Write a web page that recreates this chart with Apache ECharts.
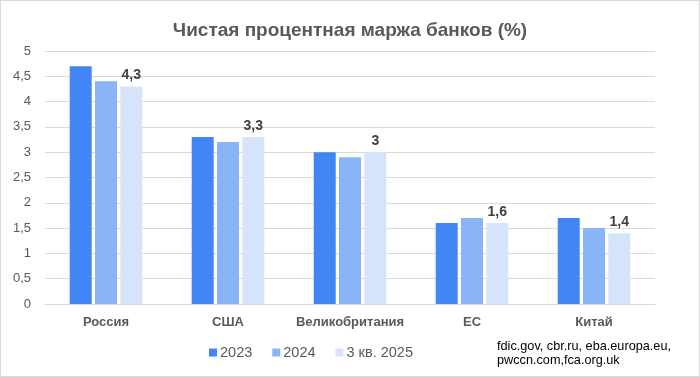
<!DOCTYPE html>
<html>
<head>
<meta charset="utf-8">
<script src="https://cdn.jsdelivr.net/npm/echarts@6/dist/echarts.min.js"></script>
<style>
  html, body { margin: 0; padding: 0; background: #fff; }
  #chart { width: 698px; height: 375px; border: 1px solid #d9d9d9; }
</style>
</head>
<body>
<div id="chart"></div>
<script>
// данные с картинки
const countries = ['Россия', 'США', 'Великобритания', 'ЕС', 'Китай'];
const seriesNames = ['2023', '2024', '3 кв. 2025'];
const v2023 = [4.7, 3.3, 3.0, 1.6, 1.7];
const v2024 = [4.4, 3.2, 2.9, 1.7, 1.5];
const v2025 = [4.3, 3.3, 3.0, 1.6, 1.4];
const colors = ['#4285F4', '#8AB4F8', '#D6E4FB'];

const fmt = v => String(v).replace('.', ',');

let myChart = echarts.init(document.getElementById('chart'));

function bar(name, data, color, withLabel) {
  return {
    name: name,
    type: 'bar',
    data: data,
    barWidth: 22,
    barGap: '15%',
    itemStyle: { color: color },
    label: {
      show: withLabel,
      position: 'top',
      distance: 4,
      fontFamily: 'Liberation Sans',
      fontSize: 14,
      fontWeight: 'bold',
      color: '#404040',
      formatter: p => fmt(p.value)
    }
  };
}

let option = {
  animation: false,
  textStyle: { fontFamily: 'Liberation Sans' },
  title: {
    text: 'Чистая процентная маржа банков (%)',
    left: 'center',
    top: 15,
    textStyle: { fontSize: 19, fontWeight: 'bold', color: '#595959', fontFamily: 'Liberation Sans' }
  },
  grid: { left: 44, right: 44, top: 50, bottom: 72, containLabel: false },
  legend: {
    bottom: 11,
    left: 203,
    itemWidth: 8,
    itemHeight: 8,
    itemGap: 20,
    icon: 'rect',
    textStyle: { fontSize: 14.5, color: '#595959', fontFamily: 'Liberation Sans', padding: [0, 0, 0, -2] },
    data: seriesNames
  },
  graphic: [{
    type: 'text',
    left: 496,
    top: 338,
    style: {
      text: 'fdic.gov, cbr.ru, eba.europa.eu,\npwccn.com,fca.org.uk',
      fontSize: 12.7,
      lineHeight: 14.5,
      fill: '#000',
      fontFamily: 'Liberation Sans'
    }
  }],
  xAxis: {
    type: 'category',
    data: countries,
    axisTick: { show: false },
    axisLine: { lineStyle: { color: '#d9d9d9' } },
    axisLabel: { interval: 0, fontSize: 13, fontWeight: 'bold', color: '#595959', margin: 12 }
  },
  yAxis: {
    type: 'value',
    min: 0,
    max: 5,
    interval: 0.5,
    axisLabel: { fontSize: 13, color: '#595959', margin: 14, formatter: v => fmt(v) },
    splitLine: { lineStyle: { color: '#d9d9d9' } }
  },
  series: [
    bar(seriesNames[0], v2023, colors[0], false),
    bar(seriesNames[1], v2024, colors[1], false),
    bar(seriesNames[2], v2025, colors[2], true)
  ]
};

myChart.setOption(option);
</script>
</body>
</html>
